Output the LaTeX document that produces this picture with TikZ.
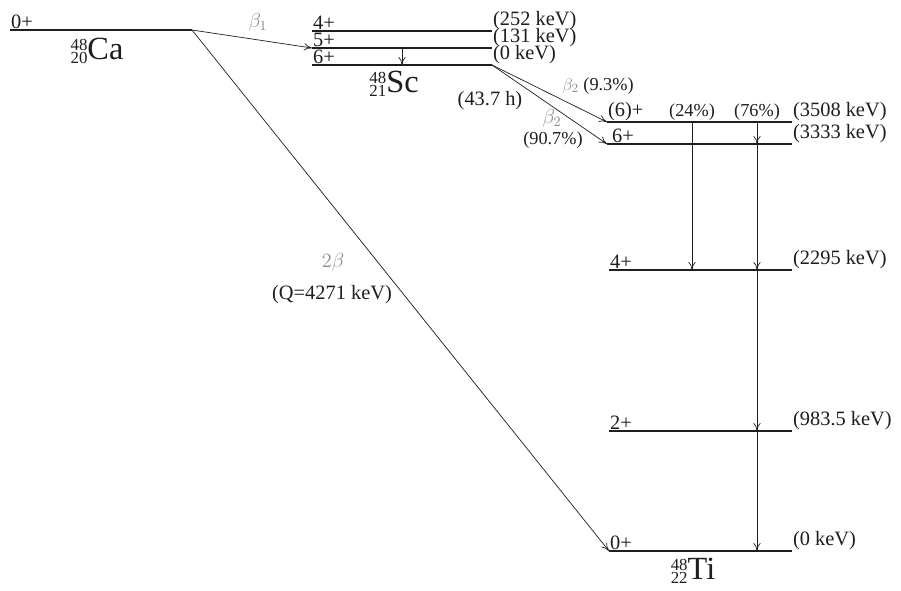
\documentclass[tikz,border=0pt]{standalone}
\usepackage{amsmath}
\usepackage{fontspec}
\setmainfont{Liberation Serif}
\usetikzlibrary{arrows.meta, positioning, calc}
\definecolor{LevelInk}{HTML}{1E1E1E}
\definecolor{BetaGrey}{HTML}{8C8C8C}
\newcommand{\nuc}[3]{\raisebox{-3pt}{\fontsize{12}{12}\selectfont\shortstack[r]{#1\\[-1.5pt]#2}}#3}

\begin{document}
\begin{tikzpicture}[x=0.025cm,y=-0.025cm,font=\fontsize{14.5}{16}\selectfont,every node/.style={text=LevelInk},level/.style={draw=LevelInk,line width=1pt},decay/.style={-{To[length=2mm,width=1.8mm]},draw=LevelInk,line width=0.5pt},spin/.style={anchor=south west,inner sep=0.6pt},energy/.style={anchor=south west,inner sep=0.6pt},betalabel/.style={text=BetaGrey,font=\fontsize{14}{16}\selectfont},small/.style={font=\fontsize{13}{15}\selectfont},nuclide/.style={font=\fontsize{23}{24}\selectfont,inner sep=1pt}]
\useasboundingbox[fill=white] (0,0) rectangle (901,591);
% 48Ca
\draw[level] (10,30) coordinate (ca-w) -- (192,30) coordinate (ca-e);
\node[spin] (ca-spin) at (ca-w) {0+};
\node[nuclide] (ca) at (97,51) {\nuc{48}{20}{Ca}};
% 48Sc
\draw[level] (312,31) coordinate (sc4-w) -- (492,31) coordinate (sc4-e);
\draw[level] (312,48) coordinate (sc5-w) -- (492,48) coordinate (sc5-e);
\draw[level] (312,65) coordinate (sc6-w) -- (492,65) coordinate (sc6-e);
\node[spin] (sc4-spin) at (sc4-w) {4+};
\node[spin] (sc5-spin) at (sc5-w) {5+};
\node[spin] (sc6-spin) at (sc6-w) {6+};
\node[energy] (sc4-en) at (sc4-e) {(252 keV)};
\node[energy] (sc5-en) at (sc5-e) {(131 keV)};
\node[energy] (sc6-en) at (sc6-e) {(0 keV)};
\node[nuclide] (sc) at (394,84) {\nuc{48}{21}{Sc}};
\coordinate (gsc) at (402,0);
\draw[decay] (gsc |- sc5-w) -- (gsc |- sc6-w);
% 48Ti
\draw[level] (607,122) coordinate (tiA-w) -- (792,122) coordinate (tiA-e);
\draw[level] (607,144) coordinate (tiB-w) -- (792,144) coordinate (tiB-e);
\draw[level] (609,270) coordinate (ti4-w) -- (792,270) coordinate (ti4-e);
\draw[level] (609,431) coordinate (ti2-w) -- (792,431) coordinate (ti2-e);
\draw[level] (609,551) coordinate (ti0-w) -- (792,551) coordinate (ti0-e);
\node[spin] (tiA-spin) at (tiA-w) {(6)+};
\node[spin] (tiB-spin) at ($(tiB-w)+(4,0)$) {6+};
\node[spin] (ti4-spin) at (ti4-w) {4+};
\node[spin] (ti2-spin) at (ti2-w) {2+};
\node[spin] (ti0-spin) at (ti0-w) {0+};
\node[energy] (tiA-en) at (tiA-e) {(3508 keV)};
\node[energy] (tiB-en) at (tiB-e) {(3333 keV)};
\node[energy] (ti4-en) at (ti4-e) {(2295 keV)};
\node[energy] (ti2-en) at (ti2-e) {(983.5 keV)};
\node[energy] (ti0-en) at (ti0-e) {(0 keV)};
\node[nuclide] (ti) at (693,571) {\nuc{48}{22}{Ti}};
% gamma cascades
\coordinate (g24) at (692,0);
\coordinate (g76) at (757,0);
\draw[decay] (g24 |- tiA-w) -- (g24 |- ti4-w);
\draw[decay] (g76 |- tiA-w) -- (g76 |- tiB-w);
\draw[decay] (g76 |- tiB-w) -- (g76 |- ti4-w);
\draw[decay] (g76 |- ti4-w) -- (g76 |- ti2-w);
\draw[decay] (g76 |- ti2-w) -- (g76 |- ti0-w);
\node[small,anchor=south,inner sep=0.6pt] (p24) at (g24 |- tiA-w) {(24\%)};
\node[small,anchor=south,inner sep=0.6pt] (p76) at (g76 |- tiA-w) {(76\%)};
% beta decays
\draw[decay] (ca-e) -- (sc5-w);
\node[betalabel] (b1) at (258,22) {\(\beta_1\)};
\draw[decay] (ca-e) -- (ti0-w);
\node[betalabel] (b2b) at (333,262) {\(2\beta\)};
\node (qval) at (332,295) {(Q=4271 keV)};
\draw[decay] (sc6-e) -- (tiA-w);
\draw[decay] (sc6-e) -- (tiB-w);
\node[small] (b2a) at (598,86) {\textcolor{BetaGrey}{\(\beta_2\)} (9.3\%)};
\node (half) at (490,101) {(43.7 h)};
\node[betalabel] (b2c) at (552,118) {\(\beta_2\)};
\node[small] (b2c-p) at (553,140) {(90.7\%)};
\end{tikzpicture}
\end{document}
